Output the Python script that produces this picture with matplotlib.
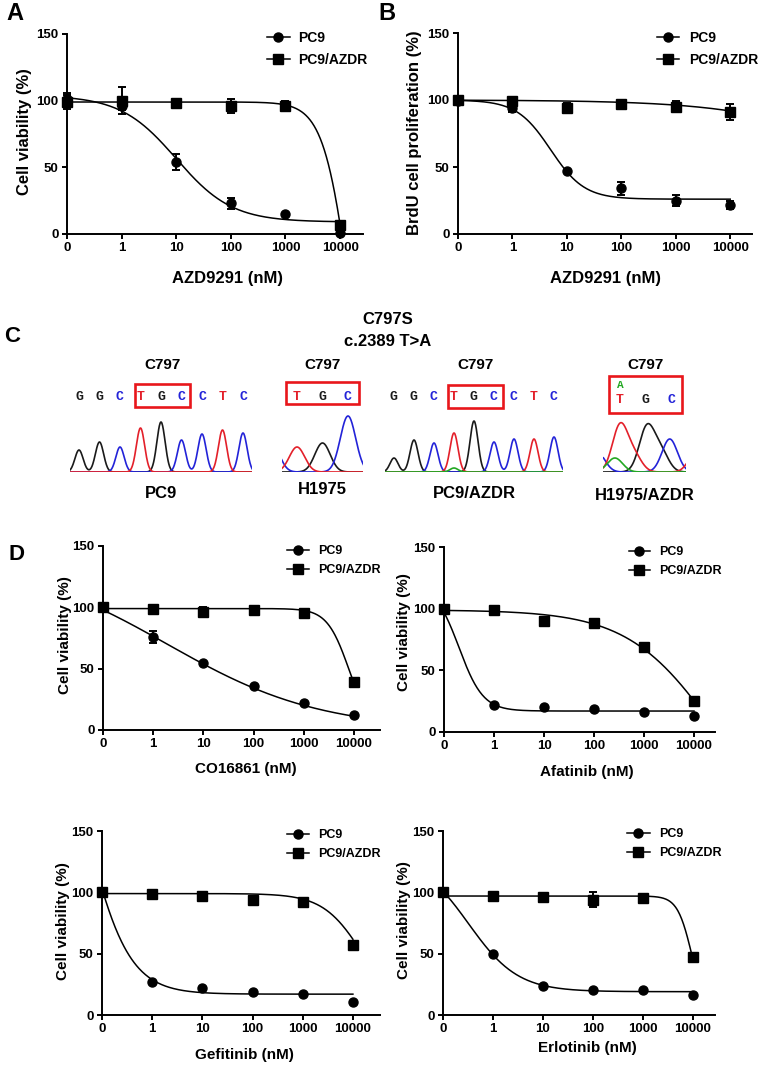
import numpy as np
import matplotlib
matplotlib.use('Agg')
import matplotlib.pyplot as plt
from matplotlib.lines import Line2D
from matplotlib.patches import Rectangle

plt.rcParams['font.family'] = ['Liberation Sans', 'DejaVu Sans']
plt.rcParams['font.weight'] = 'bold'

W, H = 764, 1066

# ---- dose response data (% of control) ----
conc = np.array([0, 1, 10, 100, 1000, 10000], dtype=float)
conc_labels = ['0', '1', '10', '100', '1000', '10000']

# A: AZD9291, cell viability
a_pc9 = [101, 96, 54, 23, 15, 1]
a_pc9_err = [5, 3, 6, 4, 0, 0]
a_azdr = [99, 100, 98, 96, 96, 7]
a_azdr_err = [5, 10, 3, 5, 4, 3]
# B: AZD9291, BrdU proliferation
b_pc9 = [99, 94, 47, 34, 25, 22]
b_pc9_err = [3, 3, 1, 5, 4, 3]
b_azdr = [100, 99, 94, 97, 95, 91]
b_azdr_err = [3, 3, 4, 2, 4, 6]
# D: other EGFR inhibitors
co_pc9 = [100, 76, 55, 36, 22, 12]
co_pc9_err = [1, 5, 0, 0, 0, 0]
co_azdr = [100, 99, 96, 98, 95, 39]
co_azdr_err = [1, 0, 4, 0, 4, 0]
afa_pc9 = [100, 22, 20, 19, 16, 13]
afa_azdr = [100, 99, 90, 88, 69, 25]
gef_pc9 = [100, 27, 22, 19, 17, 11]
gef_azdr = [100, 99, 97, 94, 92, 57]
erl_pc9 = [100, 50, 24, 20, 20, 16]
erl_pc9_err = [0, 1, 0, 0, 0, 0]
erl_azdr = [100, 97, 96, 94, 95, 47]
erl_azdr_err = [0, 0, 3, 6, 3, 0]
no_err = [0, 0, 0, 0, 0, 0]

# fitted 4PL curves: top, bottom, logEC50, hill
a_pc9_fit = [104, 9, 1.0, 0.85]
a_azdr_fit = [99, -200, 4.2, 1.77]
b_pc9_fit = [100, 26, 0.7, 1.4]
b_azdr_fit = [100, 0, 7.0, 0.35]
co_pc9_fit = [140, 0, 0.28, 0.285]
co_azdr_fit = [99, 0, 3.9, 2.0]
afa_pc9_fit = [120, 17, -0.7, 1.8]
afa_azdr_fit = [99, -100, 4.47, 0.49]
gef_pc9_fit = [300, 17, -1.36, 1.0]
gef_azdr_fit = [99, 0, 4.2, 1.1]
erl_pc9_fit = [130, 19, -0.49, 0.88]
erl_azdr_fit = [97, 0, 3.98, 3.0]

# ---- sequencing traces (peak position in bases, height, base) ----
pc9_seq = list('GGCTGCCTC')
pc9_peaks = [(0, 22, 'G'), (1, 30, 'G'), (2, 25, 'C'), (3, 44, 'T'), (4, 50, 'G'),
             (5, 32, 'C'), (6, 38, 'C'), (7, 42, 'T'), (8, 39, 'C')]
h1975_seq = list('TGC')
h1975_peaks = [(-1, 30, 'C'), (0, 25, 'T'), (1, 29, 'G'), (2, 56, 'C')]
azdr_seq = list('GGCTGCCTC')
azdr_peaks = [(0, 14, 'G'), (1, 32, 'G'), (2, 29, 'C'), (3, 39, 'T'), (3, 4, 'A'),
              (4, 51, 'G'), (5, 30, 'C'), (6, 33, 'C'), (7, 33, 'T'), (8, 35, 'C')]
h1975azdr_seq = list('TGC')
h1975azdr_peaks = [(-0.9, 20, 'C'), (-0.2, 14, 'A'), (0, 46, 'T'), (0.55, 16, 'T'),
                   (1.05, 44, 'G'), (1.6, 20, 'G'), (1.95, 33, 'C'), (3.0, 20, 'T')]

base_color = {'G': '#1a1a1a', 'C': '#2323d8', 'T': '#e3202a', 'A': '#23a823'}
BOX_RED = '#e8161b'


def prect(l, t, r, b):
    return [l / W, 1 - b / H, (r - l) / W, (b - t) / H]


def fpos(x, y):
    return x / W, 1 - y / H


def logistic(p, xs):
    top, bottom, ec, hill = p
    return bottom + (top - bottom) / (1 + 10 ** ((xs - ec) * hill))


fig = plt.figure(figsize=(W / 100, H / 100), dpi=100)
xpos = np.log10(np.where(conc == 0, 0.1, conc))


def dose_panel(box, xmax, s1, e1, s2, e2, f1, f2, xlabel, ylabel,
               xlab_at, ylab_at, leg_at, lab_fs, leg_fs, leg_len, leg_gap):
    ax = fig.add_axes(prect(*box))
    xs = np.linspace(-1, 4, 400)
    for fit in (f1, f2):
        ax.plot(xs, logistic(fit, xs), color='k', lw=1.1, clip_on=False, zorder=2)
    for vals, err, mk in ((s1, e1, 'o'), (s2, e2, 's')):
        cont = ax.errorbar(xpos, vals, yerr=err, fmt=mk, color='k', ms=6.5,
                           capsize=3, elinewidth=1.4, capthick=1.4, zorder=3)
        for art in cont.get_children():
            art.set_clip_on(False)
    ax.set_xlim(-1, xmax)
    ax.set_ylim(0, 150)
    ax.set_xticks(xpos)
    ax.set_xticklabels(conc_labels)
    ax.set_yticks([0, 50, 100, 150])
    for side in ('top', 'right'):
        ax.spines[side].set_visible(False)
    for side in ('left', 'bottom'):
        ax.spines[side].set_linewidth(1.4)
    ax.tick_params(direction='out', length=3.5, width=1.4, labelsize=9.5, pad=2.5)
    fig.text(*fpos(*xlab_at), xlabel, ha='center', va='center', fontsize=lab_fs)
    fig.text(*fpos(*ylab_at), ylabel, ha='center', va='center', fontsize=lab_fs,
             rotation=90)
    handles = [Line2D([], [], color='k', lw=1.1, marker='o', ms=6.5),
               Line2D([], [], color='k', lw=1.1, marker='s', ms=6.5)]
    ax.legend(handles, ['PC9', 'PC9/AZDR'], loc='upper left',
              bbox_to_anchor=fpos(*leg_at), bbox_transform=fig.transFigure,
              frameon=False, borderpad=0, borderaxespad=0,
              handlelength=leg_len, handletextpad=leg_gap, labelspacing=0.55,
              prop={'size': leg_fs, 'weight': 'bold'})
    return ax


# panels A and B
dose_panel((67, 34, 363, 234), 4.42, a_pc9, a_pc9_err, a_azdr, a_azdr_err,
           a_pc9_fit, a_azdr_fit, 'AZD9291 (nM)', 'Cell viability (%)',
           (227, 279), (25, 132), (267, 31), 12, 10, 1.65, 0.6)
dose_panel((458, 33, 752, 234), 4.4, b_pc9, b_pc9_err, b_azdr, b_azdr_err,
           b_pc9_fit, b_azdr_fit, 'AZD9291 (nM)', 'BrdU cell proliferation (%)',
           (606, 279), (415, 133), (657, 31), 12, 10, 1.6, 0.7)

# panel D
dose_panel((103, 546, 380, 730), 4.52, co_pc9, co_pc9_err, co_azdr, co_azdr_err,
           co_pc9_fit, co_azdr_fit, 'CO16861 (nM)', 'Cell viability (%)',
           (246, 769), (65, 635), (287, 545), 11, 9, 1.75, 0.75)
dose_panel((444, 547, 715, 732), 4.42, afa_pc9, no_err, afa_azdr, no_err,
           afa_pc9_fit, afa_azdr_fit, 'Afatinib (nM)', 'Cell viability (%)',
           (587, 772), (404, 632), (629, 546), 11, 9, 1.65, 0.8)
dose_panel((102, 831, 380, 1015), 4.54, gef_pc9, no_err, gef_azdr, no_err,
           gef_pc9_fit, gef_azdr_fit, 'Gefitinib (nM)', 'Cell viability (%)',
           (244, 1055), (63, 921), (287, 829), 11, 9, 1.75, 0.75)
dose_panel((443, 831, 715, 1015), 4.44, erl_pc9, erl_pc9_err, erl_azdr, erl_azdr_err,
           erl_pc9_fit, erl_azdr_fit, 'Erlotinib (nM)', 'Cell viability (%)',
           (587, 1048), (404, 920), (627, 828), 11, 9, 1.8, 0.8)


def trace_panel(origin, step, xlim, peaks, sigma, seq, box, name, name_y,
                seq_y=75, top_letters=None):
    base_px = 472
    ax = fig.add_axes(prect(origin + xlim[0] * step, base_px - 60,
                            origin + xlim[1] * step, base_px))
    xs = np.linspace(xlim[0], xlim[1], 500)
    for b in 'GCTA':
        sig = np.zeros_like(xs)
        for pos, hgt, base in peaks:
            if base == b:
                sig += hgt * np.exp(-0.5 * ((xs - pos) / sigma) ** 2)
        if sig.max() > 0:
            ax.plot(xs, sig, color=base_color[b], lw=1.2)
    ax.set_xlim(*xlim)
    ax.set_ylim(0, 60)
    ax.axis('off')
    for i, letter in enumerate(seq):
        ax.text(i, seq_y, letter, color=base_color[letter], ha='center', va='center',
                fontsize=9.5, family='Liberation Mono', clip_on=False)
    if top_letters:
        for i, letter, yy in top_letters:
            ax.text(i, yy, letter, color=base_color[letter], ha='center',
                    va='center', fontsize=8, family='Liberation Mono', clip_on=False)
    x0, x1, y0, y1 = box
    ax.add_patch(Rectangle((x0, y0), x1 - x0, y1 - y0, fill=False, ec=BOX_RED,
                           lw=1.9, clip_on=False))
    ax.text((x0 + x1) / 2, 107, 'C797', ha='center', va='center', fontsize=11,
            clip_on=False)
    ax.text(sum(xlim) / 2, name_y, name, ha='center', va='center', fontsize=12,
            clip_on=False)


trace_panel(79, 20.5, (-0.45, 8.45), pc9_peaks, 0.2, pc9_seq,
            (2.75, 5.4, 65, 88), 'PC9', -21)
trace_panel(297, 25.5, (-0.6, 2.6), h1975_peaks, 0.3, h1975_seq,
            (-0.44, 2.44, 68, 90), 'H1975', -17)
trace_panel(394, 20.0, (-0.45, 8.45), azdr_peaks, 0.2, azdr_seq,
            (2.7, 5.45, 64, 87), 'PC9/AZDR', -21)
trace_panel(620, 25.5, (-0.65, 2.6), h1975azdr_peaks, 0.3, h1975azdr_seq,
            (-0.43, 2.43, 59, 96), 'H1975/AZDR', -23, seq_y=72,
            top_letters=[(0, 'A', 87)])

fig.text(*fpos(388, 320), 'C797S', ha='center', va='center', fontsize=12)
fig.text(*fpos(388, 341), 'c.2389 T>A', ha='center', va='center', fontsize=12)

# panel letters
for letter, (x, y), size in (('A', (15, 13), 17), ('B', (387, 13), 17),
                             ('C', (12, 337), 16), ('D', (16, 555), 16)):
    fig.text(*fpos(x, y), letter, ha='center', va='center', fontsize=size)

fig.savefig('out.png', dpi=100)
